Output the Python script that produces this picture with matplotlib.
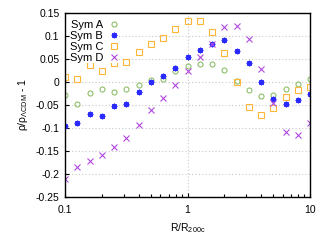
import numpy as np
import matplotlib
matplotlib.use("Agg")
import matplotlib.pyplot as plt
from matplotlib.ticker import FixedLocator, FixedFormatter, LogLocator, NullFormatter

plt.rcParams["font.family"] = ["Liberation Sans", "DejaVu Sans"]
plt.rcParams["mathtext.fontset"] = "custom"
plt.rcParams["mathtext.rm"] = "Liberation Sans"
plt.rcParams["mathtext.it"] = "Liberation Sans"

# radius bins, log10(R/R200c) from -1 to 1
log_r = [-1.0, -0.9, -0.8, -0.7, -0.6, -0.5, -0.4, -0.3, -0.2, -0.1, 0.0,
         0.1, 0.2, 0.3, 0.4, 0.5, 0.6, 0.7, 0.8, 0.9, 1.0]

sym_a = [-0.028, -0.048, -0.024, -0.016, -0.022, -0.016, -0.007, 0.005, 0.007, 0.023, 0.035,
         0.039, 0.039, 0.026, 0.001, -0.017, -0.031, -0.028, -0.016, -0.005, 0.007]
sym_b = [-0.095, -0.089, -0.070, -0.075, -0.053, -0.048, -0.021, -0.001, 0.012, 0.030, 0.055,
         0.070, 0.083, 0.091, 0.067, 0.041, 0.000, -0.037, -0.048, -0.039, -0.026]
sym_c = [0.010, 0.007, 0.036, 0.024, 0.041, 0.044, 0.066, 0.082, 0.095, 0.115, 0.133,
         0.132, 0.108, 0.062, 0.000, -0.054, -0.072, -0.057, -0.032, -0.018, -0.011]
sym_d = [-0.210, -0.185, -0.171, -0.158, -0.142, -0.122, -0.093, -0.062, -0.034, -0.007, 0.023,
         0.054, 0.083, 0.120, 0.122, 0.094, 0.028, -0.045, -0.108, -0.115, -0.089]

y_ticks = [-0.25, -0.2, -0.15, -0.1, -0.05, 0, 0.05, 0.1, 0.15]
y_labels = ["-0.25", "-0.2", "-0.15", "-0.1", "-0.05", "0", "0.05", "0.1", "0.15"]
x_ticks = [0.1, 1, 10]
x_labels = ["0.1", "1", "10"]

r = 10.0 ** np.array(log_r)

fig = plt.figure(figsize=(3.32, 2.48), dpi=100)
ax = fig.add_axes([0.196, 0.206, 0.738, 0.742])

ax.plot(r, sym_a, ls="none", marker="o", ms=3.6, mfc="none", mec="#8cc06a", mew=0.8, label="Sym A")
ax.plot(r, sym_b, ls="none", marker=(8, 2, 0), ms=4.0, mec="#2a2aff", mew=0.9, label="Sym B")
ax.plot(r, sym_c, ls="none", marker="s", ms=3.8, mfc="none", mec="#ffb636", mew=0.8, label="Sym C")
ax.plot(r, sym_d, ls="none", marker="x", ms=3.8, mec="#b04ae0", mew=0.8, label="Sym D")

ax.set_xscale("log")
ax.set_xlim(0.1, 10)
ax.set_ylim(-0.25, 0.15)

ax.xaxis.set_major_locator(FixedLocator(x_ticks))
ax.xaxis.set_major_formatter(FixedFormatter(x_labels))
ax.xaxis.set_minor_locator(LogLocator(base=10, subs=np.arange(2, 10)))
ax.xaxis.set_minor_formatter(NullFormatter())
ax.yaxis.set_major_locator(FixedLocator(y_ticks))
ax.yaxis.set_major_formatter(FixedFormatter(y_labels))

ax.tick_params(which="both", direction="in", top=False, right=False, labelsize=7.5)
ax.tick_params(axis="x", pad=6)
ax.tick_params(axis="y", pad=4)
ax.tick_params(which="major", length=3, width=0.8)
ax.tick_params(which="minor", length=2, width=0.8)

ax.grid(True, which="major", color="#c8c8c8", ls=(0, (1, 2)), lw=0.8)
for s in ax.spines.values():
    s.set_linewidth(1.0)
    s.set_color("black")

ax.set_xlabel(r"R/R$_{\mathrm{200c}}$", fontsize=7.5, labelpad=4)
ax.set_ylabel(r"ρ/ρ$_{\mathrm{\Lambda CDM}}$ - 1", fontsize=7.5, labelpad=4)

leg = ax.legend(loc="upper left", bbox_to_anchor=(0.01, 0.975), markerfirst=False, frameon=True,
                fontsize=8, handlelength=0.8, handletextpad=0.6, labelspacing=0.1,
                borderaxespad=0.2, borderpad=0.0)
leg.get_frame().set_edgecolor("none")
leg.get_frame().set_facecolor("white")
leg.get_frame().set_alpha(1.0)
for t in leg.get_texts():
    t.set_ha("right")

fig.savefig("out.png", dpi=100)
